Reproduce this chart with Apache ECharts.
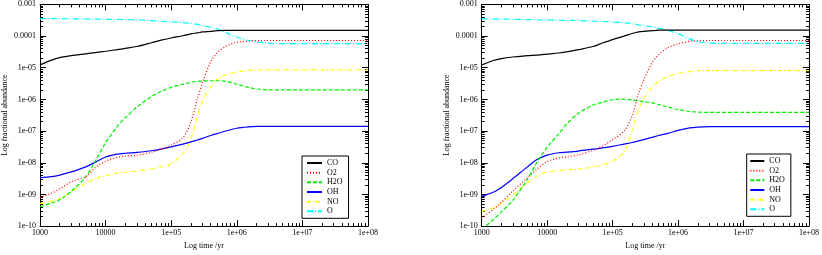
<!DOCTYPE html>
<html><head><meta charset="utf-8">
<script src="https://cdn.jsdelivr.net/npm/echarts@6/dist/echarts.min.js"></script>
<style>html,body{margin:0;padding:0;background:#fff}#c{width:822px;height:255px}</style>
</head><body><div id="c"></div>
<script>
// time grid (yr)
const times = [1000,1500,2000,3000,5000,7000,1e4,1.5e4,2e4,3e4,5e4,7e4,1e5,1.5e5,2e5,2.5e5,3e5,4e5,5e5,7e5,1e6,1.5e6,2e6,3e6,5e6,1e7,3e7,1e8];
const xTickValues = [1e3,1e4,1e5,1e6,1e7,1e8];
const xTickLabels = ['1000','10000','1e+05','1e+06','1e+07','1e+08'];
const yTickValues = [1e-10,1e-9,1e-8,1e-7,1e-6,1e-5,1e-4,1e-3];
const yTickLabels = ['1e-10','1e-09','1e-08','1e-07','1e-06','1e-05','0.0001','0.001'];
const speciesNames = ['CO','O2','H2O','OH','NO','O'];

// log10 fractional abundance, left panel
const leftCO  = [-4.91,-4.76,-4.68,-4.62,-4.56,-4.52,-4.48,-4.43,-4.39,-4.33,-4.21,-4.13,-4.06,-3.99,-3.93,-3.90,-3.87,-3.85,-3.83,-3.82,-3.82,-3.82,-3.82,-3.82,-3.82,-3.82,-3.82,-3.82];
const leftO2  = [-9.11,-8.96,-8.83,-8.60,-8.44,-8.15,-7.95,-7.83,-7.79,-7.76,-7.67,-7.57,-7.44,-7.22,-6.70,-6.00,-5.47,-4.81,-4.53,-4.31,-4.20,-4.16,-4.145,-4.14,-4.14,-4.14,-4.14,-4.14];
const leftH2O = [-9.39,-9.27,-9.17,-8.90,-8.44,-7.94,-7.37,-6.86,-6.58,-6.24,-5.91,-5.75,-5.62,-5.52,-5.46,-5.43,-5.42,-5.41,-5.41,-5.43,-5.52,-5.62,-5.67,-5.70,-5.70,-5.70,-5.70,-5.70];
const leftOH  = [-8.47,-8.44,-8.39,-8.29,-8.13,-7.98,-7.82,-7.73,-7.70,-7.67,-7.62,-7.57,-7.50,-7.41,-7.34,-7.28,-7.23,-7.14,-7.08,-6.99,-6.91,-6.865,-6.85,-6.85,-6.85,-6.85,-6.85,-6.85];
const leftNO  = [-9.29,-9.21,-9.13,-8.92,-8.65,-8.50,-8.41,-8.33,-8.30,-8.26,-8.20,-8.13,-8.03,-7.72,-7.25,-6.54,-6.05,-5.60,-5.37,-5.22,-5.14,-5.09,-5.07,-5.07,-5.07,-5.07,-5.07,-5.07];
const leftO   = [-3.45,-3.45,-3.45,-3.455,-3.46,-3.465,-3.47,-3.475,-3.48,-3.49,-3.51,-3.53,-3.55,-3.575,-3.60,-3.63,-3.67,-3.72,-3.77,-3.90,-4.03,-4.14,-4.18,-4.22,-4.24,-4.24,-4.24,-4.24];

// log10 fractional abundance, right panel
const rightCO  = [-4.91,-4.77,-4.71,-4.66,-4.615,-4.60,-4.57,-4.535,-4.50,-4.43,-4.33,-4.22,-4.11,-4.00,-3.92,-3.87,-3.85,-3.83,-3.815,-3.81,-3.81,-3.81,-3.81,-3.81,-3.81,-3.81,-3.81,-3.81];
const rightO2  = [-9.75,-9.47,-9.25,-8.89,-8.47,-8.20,-7.96,-7.85,-7.82,-7.75,-7.61,-7.47,-7.27,-7.00,-6.51,-5.81,-5.38,-4.85,-4.60,-4.37,-4.25,-4.17,-4.15,-4.14,-4.14,-4.14,-4.14,-4.14];
const rightH2O = [-10.1,-9.80,-9.55,-9.18,-8.52,-7.98,-7.51,-7.09,-6.77,-6.44,-6.18,-6.09,-6.01,-5.99,-6.02,-6.04,-6.07,-6.11,-6.16,-6.24,-6.32,-6.38,-6.40,-6.41,-6.41,-6.41,-6.41,-6.41];
const rightOH  = [-9.06,-8.93,-8.78,-8.50,-8.13,-7.90,-7.76,-7.685,-7.665,-7.63,-7.57,-7.53,-7.48,-7.41,-7.36,-7.31,-7.27,-7.20,-7.14,-7.07,-6.98,-6.90,-6.875,-6.86,-6.86,-6.86,-6.86,-6.86];
const rightNO  = [-9.54,-9.42,-9.27,-9.01,-8.64,-8.42,-8.29,-8.24,-8.225,-8.195,-8.14,-8.07,-7.95,-7.66,-6.95,-6.30,-5.95,-5.61,-5.44,-5.28,-5.18,-5.12,-5.10,-5.09,-5.09,-5.09,-5.09,-5.09];
const rightO   = [-3.45,-3.46,-3.465,-3.47,-3.48,-3.485,-3.49,-3.50,-3.505,-3.51,-3.53,-3.54,-3.555,-3.58,-3.61,-3.645,-3.67,-3.71,-3.75,-3.82,-3.92,-4.09,-4.175,-4.22,-4.23,-4.23,-4.23,-4.23];

const panels = [
  [leftCO, leftO2, leftH2O, leftOH, leftNO, leftO],
  [rightCO, rightO2, rightH2O, rightOH, rightNO, rightO]
];

// styles
const FONT = 'Liberation Serif';
const colors = ['#000000','#ff0000','#00f000','#0000ff','#ffff00','#00ffff'];
const dashes = ['solid',[1,2],[4,2],'solid',[4,2,1,2],[6,2,1,2]];

const xMinor = [], yMinor = [];
for (let d = 3; d < 8; d++) for (let k = 2; k < 10; k++) xMinor.push(k * Math.pow(10, d));
for (let d = -10; d < -3; d++) for (let k = 2; k < 10; k++) yMinor.push(k * Math.pow(10, d));

const grids = [
  {left: 40, top: 4.4, width: 328, height: 228.9},
  {left: 481.7, top: 4.4, width: 327.6, height: 228.9}
];

const tickFont = {fontSize: 8, fontFamily: FONT, color: '#000'};
const xAxes = [], yAxes = [];
grids.forEach((g, i) => {
  const base = {type: 'log', logBase: 10, gridIndex: i, min: 1e3, max: 1e8, splitLine: {show: false}, minorTick: {show: false}, minorSplitLine: {show: false}};
  xAxes.push(Object.assign({}, base, {
    position: 'bottom', name: 'Log time /yr', nameLocation: 'middle', nameGap: 12,
    nameTextStyle: {fontSize: 8, fontFamily: FONT, color: '#000'},
    axisLine: {show: true, lineStyle: {color: '#000', width: 1}},
    axisTick: {show: true, inside: true, length: 6, customValues: xTickValues, lineStyle: {color: '#000', width: 1}},
    axisLabel: Object.assign({show: true, margin: 3, customValues: xTickValues,
      formatter: v => xTickLabels[Math.round(Math.log10(v)) - 3]}, tickFont)
  }));
  xAxes.push(Object.assign({}, base, {
    position: 'bottom', axisLine: {show: false},
    axisTick: {show: true, inside: true, length: 3, customValues: xMinor, lineStyle: {color: '#000', width: 1}},
    axisLabel: {show: false}
  }));
  xAxes.push(Object.assign({}, base, {
    position: 'top', axisLine: {show: true, lineStyle: {color: '#000', width: 1}},
    axisTick: {show: true, inside: true, length: 6, customValues: xTickValues, lineStyle: {color: '#000', width: 1}},
    axisLabel: {show: false}
  }));
  xAxes.push(Object.assign({}, base, {
    position: 'top', axisLine: {show: false},
    axisTick: {show: true, inside: true, length: 3, customValues: xMinor, lineStyle: {color: '#000', width: 1}},
    axisLabel: {show: false}
  }));

  const ybase = {type: 'log', logBase: 10, gridIndex: i, min: 1e-10, max: 1e-3, splitLine: {show: false}, minorTick: {show: false}, minorSplitLine: {show: false}};
  yAxes.push(Object.assign({}, ybase, {
    position: 'left', name: 'Log fractional abundance', nameLocation: 'middle', nameGap: 31,
    nameTextStyle: {fontSize: 8, fontFamily: FONT, color: '#000'},
    axisLine: {show: true, lineStyle: {color: '#000', width: 1}},
    axisTick: {show: true, inside: true, length: 6, customValues: yTickValues, lineStyle: {color: '#000', width: 1}},
    axisLabel: Object.assign({show: true, margin: 4, customValues: yTickValues,
      formatter: v => yTickLabels[Math.round(Math.log10(v)) + 10]}, tickFont)
  }));
  yAxes.push(Object.assign({}, ybase, {
    position: 'left', axisLine: {show: false},
    axisTick: {show: true, inside: true, length: 3, customValues: yMinor, lineStyle: {color: '#000', width: 1}},
    axisLabel: {show: false}
  }));
  yAxes.push(Object.assign({}, ybase, {
    position: 'right', axisLine: {show: true, lineStyle: {color: '#000', width: 1}},
    axisTick: {show: true, inside: true, length: 6, customValues: yTickValues, lineStyle: {color: '#000', width: 1}},
    axisLabel: {show: false}
  }));
  yAxes.push(Object.assign({}, ybase, {
    position: 'right', axisLine: {show: false},
    axisTick: {show: true, inside: true, length: 3, customValues: yMinor, lineStyle: {color: '#000', width: 1}},
    axisLabel: {show: false}
  }));
});

const series = [];
panels.forEach((arrs, p) => {
  arrs.forEach((arr, s) => {
    series.push({
      type: 'line', name: speciesNames[s], xAxisIndex: p * 4, yAxisIndex: p * 4,
      data: times.map((t, j) => [t, Math.pow(10, arr[j])]),
      symbol: 'none', smooth: 0.3, clip: true,
      lineStyle: {color: colors[s], width: 1.2, type: dashes[s]},
      itemStyle: {color: colors[s]},
      emphasis: {disabled: true}, animation: false, z: 10 - s
    });
  });
});

const legendBase = {
  orient: 'vertical', data: speciesNames, itemHeight: 8, itemGap: 1.66,
  borderColor: '#000', borderWidth: 1, backgroundColor: '#fff', borderRadius: 0,
  textStyle: {fontSize: 8, fontFamily: FONT, color: '#000', lineHeight: 8},
  itemStyle: {opacity: 0, borderWidth: 0},
  selectedMode: false, z: 20
};
const legends = [
  Object.assign({}, legendBase, {left: 302, top: 156, padding: [3, 6, 3, 4], itemWidth: 15}),
  Object.assign({}, legendBase, {left: 746.7, top: 154, padding: [3, 6, 3, 2.6], itemWidth: 14})
];

const chart = echarts.init(document.getElementById('c'), null, {renderer: 'canvas'});
chart.setOption({
  animation: false,
  backgroundColor: '#fff',
  grid: grids,
  xAxis: xAxes,
  yAxis: yAxes,
  legend: legends,
  series: series
});
</script>
</body></html>
